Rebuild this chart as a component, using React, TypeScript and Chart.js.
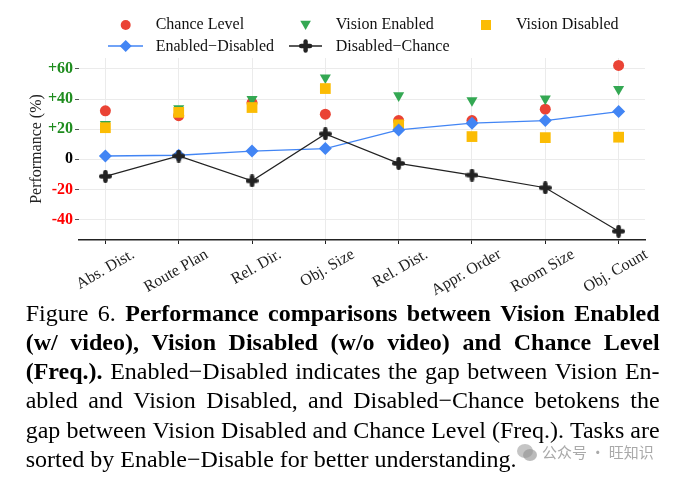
import React, { useEffect, useRef } from 'react';
import { Chart, registerables } from 'chart.js';

Chart.register(...registerables);

const categories = ['Abs. Dist.', 'Route Plan', 'Rel. Dir.', 'Obj. Size', 'Rel. Dist.', 'Appr. Order', 'Room Size', 'Obj. Count'];
const chanceLevel = [32.2, 29.0, 37.5, 30.0, 25.7, 25.7, 33.3, 62.4];
const visionEnabled = [23.3, 33.8, 40.0, 54.2, 42.4, 39.1, 40.2, 46.6];
const visionDisabled = [21.0, 31.2, 34.4, 47.0, 22.9, 15.1, 14.4, 14.7];
const enabledMinusDisabled = [2.2, 2.7, 5.5, 7.1, 19.5, 24.0, 25.7, 31.7];
const disabledMinusChance = [-11.3, 2.2, -14.3, 16.9, -2.7, -10.5, -18.9, -47.8];
const yTickValues = [-40, -20, 0, 20, 40, 60];

const legendRow1 = ['Chance Level', 'Vision Enabled', 'Vision Disabled'];
const legendRow2 = ['Enabled\u2212Disabled', 'Disabled\u2212Chance'];

const captionLines: [string, boolean][][] = [
  [['Figure 6.', false], ['Performance comparisons between Vision Enabled', true]],
  [['(w/ video), Vision Disabled (w/o video) and Chance Level', true]],
  [['(Freq.).', true], ['Enabled\u2212Disabled indicates the gap between Vision En-', false]],
  [['abled and Vision Disabled, and Disabled\u2212Chance betokens the', false]],
  [['gap between Vision Disabled and Chance Level (Freq.). Tasks are', false]],
  [['sorted by Enable\u2212Disable for better understanding.', false]],
];

const RED = '#ea4335';
const GREEN = '#34a853';
const YELLOW = '#fbbc04';
const BLUE = '#4285f4';
const BLACK = '#222222';
const SERIF = '"Liberation Serif", "Times New Roman", serif';

function makePlus(size: number, thick: number, color: string) {
  const c = document.createElement('canvas');
  c.width = size;
  c.height = size;
  const g = c.getContext('2d')!;
  g.strokeStyle = color;
  g.lineWidth = thick;
  g.lineCap = 'round';
  const m = size / 2;
  const e = thick / 2;
  g.beginPath();
  g.moveTo(m, e);
  g.lineTo(m, size - e);
  g.moveTo(e, m);
  g.lineTo(size - e, m);
  g.stroke();
  return c;
}

function ChartCanvas() {
  const ref = useRef<HTMLCanvasElement | null>(null);
  useEffect(() => {
    if (!ref.current) return;
    const plus = makePlus(13, 4.6, BLACK);
    const toXY = (arr: number[]) => arr.map((v, i) => ({ x: i, y: v }));
    const chart = new Chart(ref.current, {
      type: 'scatter',
      data: {
        datasets: [
          {
            label: 'Chance Level',
            data: toXY(chanceLevel),
            showLine: false,
            pointStyle: 'circle',
            pointRadius: 5.5,
            pointBorderWidth: 0,
            backgroundColor: RED,
            borderColor: RED,
            order: 4,
          },
          {
            label: 'Vision Enabled',
            data: toXY(visionEnabled),
            showLine: false,
            pointStyle: 'triangle',
            pointRotation: 180,
            pointRadius: 6.4,
            pointBorderWidth: 0,
            backgroundColor: GREEN,
            borderColor: GREEN,
            order: 3,
          },
          {
            label: 'Vision Disabled',
            data: toXY(visionDisabled),
            showLine: false,
            pointStyle: 'rect',
            pointRadius: 7.6,
            pointBorderWidth: 0,
            backgroundColor: YELLOW,
            borderColor: YELLOW,
            order: 2,
          },
          {
            label: 'Enabled\u2212Disabled',
            data: toXY(enabledMinusDisabled),
            showLine: true,
            borderColor: BLUE,
            borderWidth: 1.3,
            pointStyle: 'rectRot',
            pointRadius: 6.5,
            pointBorderWidth: 0,
            pointBackgroundColor: BLUE,
            backgroundColor: BLUE,
            order: 1,
          },
          {
            label: 'Disabled\u2212Chance',
            data: toXY(disabledMinusChance),
            showLine: true,
            borderColor: BLACK,
            borderWidth: 1.2,
            pointStyle: plus as any,
            pointRadius: 6.5,
            pointBorderWidth: 0,
            backgroundColor: BLACK,
            order: 0,
          },
        ],
      },
      options: {
        responsive: false,
        animation: false,
        layout: { padding: { top: 58, right: 29, left: 0, bottom: 0 } },
        plugins: {
          legend: { display: false },
          tooltip: { enabled: false },
        },
        scales: {
          x: {
            type: 'linear',
            min: -0.36,
            max: 7.36,
            afterFit: (s: any) => {
              s.height = 60;
            },
            ticks: {
              stepSize: 1,
              includeBounds: false,
              autoSkip: false,
              minRotation: 30,
              maxRotation: 30,
              labelOffset: 28,
              padding: 1,
              color: BLACK,
              font: { family: SERIF, size: 16 },
              callback: (v: any) => categories[Math.round(Number(v))] ?? '',
            },
            grid: { color: '#ebebeb', lineWidth: 1, tickColor: BLACK, tickLength: 4, drawTicks: true },
            border: { display: true, color: BLACK, width: 1.5 },
          },
          y: {
            min: -53.6,
            max: 67.3,
            afterFit: (s: any) => {
              s.width = 79;
            },
            afterBuildTicks: (s: any) => {
              s.ticks = yTickValues.map((v) => ({ value: v }));
            },
            ticks: {
              padding: 2,
              font: { family: SERIF, size: 16, weight: 'bold' },
              color: (ctx: any) => {
                const v = ctx.tick ? ctx.tick.value : 0;
                return v > 0 ? '#1e8c1e' : v < 0 ? '#ff0000' : '#000000';
              },
              callback: (v: any) => (Number(v) > 0 ? '+' + v : String(v)),
            },
            grid: { color: '#ebebeb', lineWidth: 1, tickColor: '#555555', tickLength: 4, drawTicks: true },
            border: { display: false },
            title: {
              display: true,
              text: 'Performance (%)',
              color: BLACK,
              font: { family: SERIF, size: 16 },
              padding: { top: 27.4, bottom: 0 },
            },
          },
        },
      },
    });
    return () => chart.destroy();
  }, []);
  return <canvas ref={ref} width={674} height={300} style={{ position: 'absolute', left: 0, top: 0, display: 'block' }} />;
}

function Legend() {
  const textStyle = (left: number, baseline: number): React.CSSProperties => ({
    position: 'absolute',
    left,
    top: baseline - 15.4,
    fontFamily: SERIF,
    fontSize: 16,
    lineHeight: '20px',
    color: '#111',
    whiteSpace: 'nowrap',
  });
  const r1 = 25;
  const r2 = 46;
  return (
    <>
      <svg width={674} height={60} style={{ position: 'absolute', left: 0, top: 0 }}>
        <circle cx={125.7} cy={r1} r={5} fill={RED} />
        <polygon points={`${305.6 - 5.3},${r1 - 4.3} ${305.6 + 5.3},${r1 - 4.3} ${305.6},${r1 + 5}`} fill={GREEN} />
        <rect x={486 - 5} y={r1 - 5} width={10} height={10} fill={YELLOW} />
        <line x1={108} y1={r2} x2={143} y2={r2} stroke={BLUE} strokeWidth={1.5} />
        <polygon points={`125.7,${r2 - 6} ${125.7 + 6},${r2} 125.7,${r2 + 6} ${125.7 - 6},${r2}`} fill={BLUE} />
        <line x1={289} y1={r2} x2={322} y2={r2} stroke={BLACK} strokeWidth={1.5} />
        <line x1={305.6} y1={r2 - 4.5} x2={305.6} y2={r2 + 4.5} stroke={BLACK} strokeWidth={4.4} strokeLinecap="round" />
        <line x1={305.6 - 4.5} y1={r2} x2={305.6 + 4.5} y2={r2} stroke={BLACK} strokeWidth={4.4} strokeLinecap="round" />
      </svg>
      <span style={textStyle(155.7, 29)}>{legendRow1[0]}</span>
      <span style={textStyle(335.7, 29)}>{legendRow1[1]}</span>
      <span style={textStyle(516, 29)}>{legendRow1[2]}</span>
      <span style={textStyle(155.7, 51.3)}>{legendRow2[0]}</span>
      <span style={textStyle(335.7, 51.3)}>{legendRow2[1]}</span>
    </>
  );
}

function Caption() {
  const top0 = 298.8;
  const lh = 29.2;
  return (
    <>
      {captionLines.map((segs, i) => {
        const words: { w: string; b: boolean }[] = [];
        segs.forEach(([t, b]) => t.split(' ').forEach((w) => words.push({ w, b })));
        const last = i === captionLines.length - 1;
        return (
          <div
            key={i}
            style={{
              position: 'absolute',
              left: 25.7,
              top: top0 + i * lh,
              width: 634,
              height: lh,
              display: 'flex',
              justifyContent: last ? 'flex-start' : 'space-between',
              columnGap: last ? '0.25em' : 0,
              fontFamily: SERIF,
              fontSize: 24,
              lineHeight: lh + 'px',
              color: '#000',
              whiteSpace: 'nowrap',
            }}
          >
            {words.map((o, j) => (
              <span key={j} style={{ fontWeight: o.b ? 'bold' : 'normal' }}>
                {o.w}
              </span>
            ))}
          </div>
        );
      })}
      <div
        style={{
          position: 'absolute',
          left: 516,
          top: 441,
          display: 'flex',
          alignItems: 'center',
          gap: 4,
          fontFamily: '"Noto Sans CJK SC", sans-serif',
          fontSize: 15,
          color: 'rgba(140,140,140,0.75)',
          whiteSpace: 'nowrap',
        }}
      >
        <svg width={22} height={20}>
          <ellipse cx={9} cy={9} rx={8} ry={7} fill="rgba(150,150,150,0.55)" />
          <ellipse cx={14} cy={13} rx={7} ry={6} fill="rgba(150,150,150,0.65)" />
        </svg>
        <span>公众号 · 旺知识</span>
      </div>
    </>
  );
}

export default function App() {
  return (
    <div style={{ position: 'absolute', left: 0, top: 0, width: 674, height: 480, background: '#fff', overflow: 'hidden' }}>
      <ChartCanvas />
      <Legend />
      <Caption />
    </div>
  );
}
